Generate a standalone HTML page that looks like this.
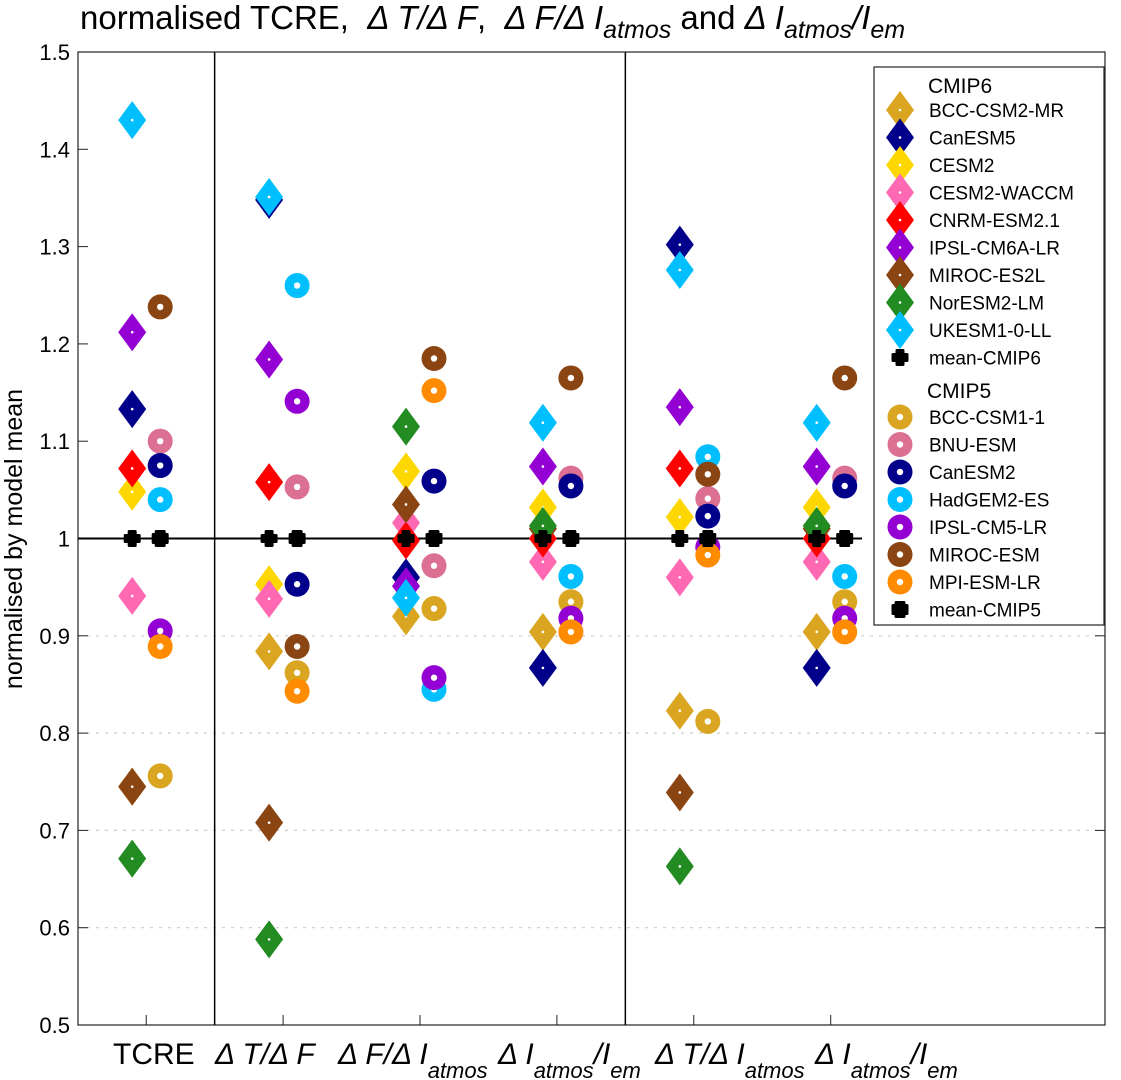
<!DOCTYPE html>
<html><head><meta charset="utf-8"><style>
body{margin:0;background:#fff;}
svg{display:block;font-family:"Liberation Sans",sans-serif;}
</style></head><body>
<svg id="chart" width="1121" height="1080" viewBox="0 0 1121 1080" xmlns="http://www.w3.org/2000/svg">
<text x="80" y="29" font-size="33" xml:space="preserve">normalised TCRE,  <tspan font-style="italic">Δ T/Δ F</tspan>,  <tspan font-style="italic">Δ F/Δ I</tspan><tspan font-style="italic" font-size="25" dy="9">atmos</tspan><tspan dy="-9"> and </tspan><tspan font-style="italic">Δ I</tspan><tspan font-style="italic" font-size="25" dy="9">atmos</tspan><tspan font-style="italic" dy="-9">/I</tspan><tspan font-style="italic" font-size="25" dy="9">em</tspan></text>
<text transform="translate(22,539) rotate(-90)" text-anchor="middle" font-size="25">normalised by model mean</text>
<g id="grid"></g><g id="axes"></g><g id="marks"></g><g id="legend"></g>
<g font-size="30" xml:space="preserve">
<text x="113" y="1064">TCRE</text>
<text x="215" y="1064" font-style="italic">Δ T/Δ F</text>
<text x="338" y="1064" font-style="italic">Δ F/Δ I<tspan font-size="22" dy="14">atmos</tspan></text>
<text x="498" y="1064" font-style="italic">Δ I<tspan font-size="22" dy="14">atmos</tspan><tspan dy="-14">/I</tspan><tspan font-size="22" dy="14">em</tspan></text>
<text x="655" y="1064" font-style="italic">Δ T/Δ I<tspan font-size="22" dy="14">atmos</tspan></text>
<text x="815" y="1064" font-style="italic">Δ I<tspan font-size="22" dy="14">atmos</tspan><tspan dy="-14">/I</tspan><tspan font-size="22" dy="14">em</tspan></text>
</g>
</svg>
<script>
const categories=["TCRE","dT/dF","dF/dI","dI/Iem","dT/dI","dI/Iem2"];
const yTicks=[0.5,0.6,0.7,0.8,0.9,1,1.1,1.2,1.3,1.4,1.5];
const cmip6Names=["BCC-CSM2-MR","CanESM5","CESM2","CESM2-WACCM","CNRM-ESM2.1","IPSL-CM6A-LR","MIROC-ES2L","NorESM2-LM","UKESM1-0-LL"];
const cmip6Colors=["#DAA520","#00008B","#FFD700","#FF69B4","#FF0000","#9400D3","#8B4513","#228B22","#00BFFF"];
const bccCsm2=[0.745,0.884,0.92,0.904,0.823,0.904];
const canEsm5=[1.133,1.348,0.96,0.867,1.302,0.867];
const cesm2=[1.048,0.953,1.069,1.032,1.022,1.032];
const cesm2Waccm=[0.941,0.938,1.016,0.976,0.96,0.976];
const cnrm=[1.072,1.058,0.998,1.0,1.072,1.0];
const ipslCm6=[1.212,1.184,0.951,1.074,1.135,1.074];
const mirocEs2l=[0.745,0.708,1.035,1.01,0.739,1.01];
const norEsm=[0.671,0.588,1.115,1.013,0.663,1.013];
const ukEsm=[1.43,1.351,0.939,1.119,1.276,1.119];
const cmip5Names=["BCC-CSM1-1","BNU-ESM","CanESM2","HadGEM2-ES","IPSL-CM5-LR","MIROC-ESM","MPI-ESM-LR"];
const cmip5Colors=["#DAA520","#DB7093","#00008B","#00BFFF","#9400D3","#8B4513","#FF8C00"];
const bccCsm1=[0.756,0.862,0.928,0.935,0.812,0.935];
const bnuEsm=[1.1,1.053,0.972,1.062,1.041,1.062];
const canEsm2=[1.075,0.953,1.059,1.054,1.023,1.054];
const hadGem=[1.04,1.26,0.845,0.961,1.084,0.961];
const ipslCm5=[0.905,1.141,0.857,0.918,0.991,0.918];
const mirocEsm=[1.238,0.889,1.185,1.165,1.066,1.165];
const mpiEsm=[0.889,0.843,1.152,0.904,0.983,0.904];
const mean6=[1,1,1,1,1,1];
const mean5=[1,1,1,1,1,1];
const cmip6Data=[bccCsm2,canEsm5,cesm2,cesm2Waccm,cnrm,ipslCm6,mirocEs2l,norEsm,ukEsm];
const cmip5Data=[bccCsm1,bnuEsm,canEsm2,hadGem,ipslCm5,mirocEsm,mpiEsm];

const NS="http://www.w3.org/2000/svg";
const L=78,R=1105,T=52,B=1025;
function xS(i){return 77.75+(i+0.5)*136.9;}
function yS(v){return B-(v-0.5)/1.0*(B-T);}
function mk(tag,attrs,parent){const e=document.createElementNS(NS,tag);for(const k in attrs)e.setAttribute(k,attrs[k]);parent.appendChild(e);return e;}
const grid=document.getElementById('grid'),axes=document.getElementById('axes'),marks=document.getElementById('marks'),leg=document.getElementById('legend');
yTicks.forEach(t=>{
  const y=yS(t);
  if(t>0.5&&t<1){const g=mk('line',{x1:L,x2:R,y1:y,y2:y,stroke:'#ccc','stroke-width':1.2,'stroke-dasharray':'3,6'},grid);
  
  }
  const tk=mk('line',{x1:L,x2:L+10,y1:y,y2:y,stroke:'#222','stroke-width':1},axes);
  
  
  const tk2=mk('line',{x1:R-10,x2:R,y1:y,y2:y,stroke:'#222','stroke-width':1},axes);
  
  
  const tx=mk('text',{x:70,y:y+8,'text-anchor':'end','font-size':22},axes);
  tx.textContent=(t===1?'1':t.toFixed(1));
  
  
});
const frame=mk('rect',{x:L,y:T,width:R-L,height:B-T,fill:'none',stroke:'#222','stroke-width':1.2},axes);


[1.5,4.5].forEach(p=>{const xx=77.75+(p-0.5)*136.9;const v=mk('line',{x1:xx,x2:xx,y1:T,y2:B,stroke:'#000','stroke-width':1.5},axes);

});
categories.forEach((c,i)=>{const tk=mk('line',{x1:xS(i),x2:xS(i),y1:B,y2:B-10,stroke:'#222'},axes);

});
const ref=mk('line',{x1:L,x2:862,y1:yS(1),y2:yS(1),stroke:'#000','stroke-width':2},axes);



function diamond(cx,cy,col,p){const g=mk('g',{},p);
  mk('polygon',{points:`${cx},${cy-19} ${cx+14},${cy} ${cx},${cy+19} ${cx-14},${cy}`,fill:col},g);
  mk('circle',{cx:cx,cy:cy,r:1.3,fill:'#fff'},g);return g;}
function ring(cx,cy,col,p){const g=mk('g',{},p);
  mk('circle',{cx:cx,cy:cy,r:12.5,fill:col},g);
  mk('circle',{cx:cx,cy:cy,r:3.2,fill:'#fff'},g);return g;}
function meanMk(cx,cy,p,sq){const a=7,b=sq?4:3;
  return mk('polygon',{points:`${cx-b},${cy-a} ${cx+b},${cy-a} ${cx+b},${cy-b} ${cx+a},${cy-b} ${cx+a},${cy+b} ${cx+b},${cy+b} ${cx+b},${cy+a} ${cx-b},${cy+a} ${cx-b},${cy+b} ${cx-a},${cy+b} ${cx-a},${cy-b} ${cx-b},${cy-b}`,fill:'#000',stroke:'#000','stroke-width':3,'stroke-linejoin':'round'},p);}

cmip6Data.forEach((arr,m)=>{arr.forEach((v,i)=>{const g=diamond(xS(i)-14,yS(v),cmip6Colors[m],marks);
  
  });});
mean6.forEach((v,i)=>{const g=meanMk(xS(i)-14,yS(v),marks,false);
  
  });
cmip5Data.forEach((arr,m)=>{arr.forEach((v,i)=>{const g=ring(xS(i)+14,yS(v),cmip5Colors[m],marks);
  
  });});
mean5.forEach((v,i)=>{const g=meanMk(xS(i)+14,yS(v),marks,true);
  
  });

// legend
const box=mk('rect',{x:874,y:67,width:230,height:558,fill:'#fff',stroke:'#222','stroke-width':1.2},leg);


function ltext(y,s,size,x){const t=mk('text',{x:x||929,y:y+7,'font-size':size||19},leg);t.textContent=s;return t;}
const h6=ltext(86,'CMIP6',21,928);


let y=110;
cmip6Names.forEach((n,m)=>{const g=mk('g',{},leg);diamond(900,y,cmip6Colors[m],g);const t=ltext(y,n);g.appendChild(t);
  
  y+=27.5;});
{const g=mk('g',{},leg);meanMk(900,y,g,false);g.appendChild(ltext(y,'mean-CMIP6'));

}
const h5=ltext(391,'CMIP5',21,927);


y=417;
cmip5Names.forEach((n,m)=>{const g=mk('g',{},leg);ring(900,y,cmip5Colors[m],g);g.appendChild(ltext(y,n));
  
  y+=27.5;});
{const g=mk('g',{},leg);meanMk(900,y,g,true);g.appendChild(ltext(y,'mean-CMIP5'));

}
</script>
</body></html>
